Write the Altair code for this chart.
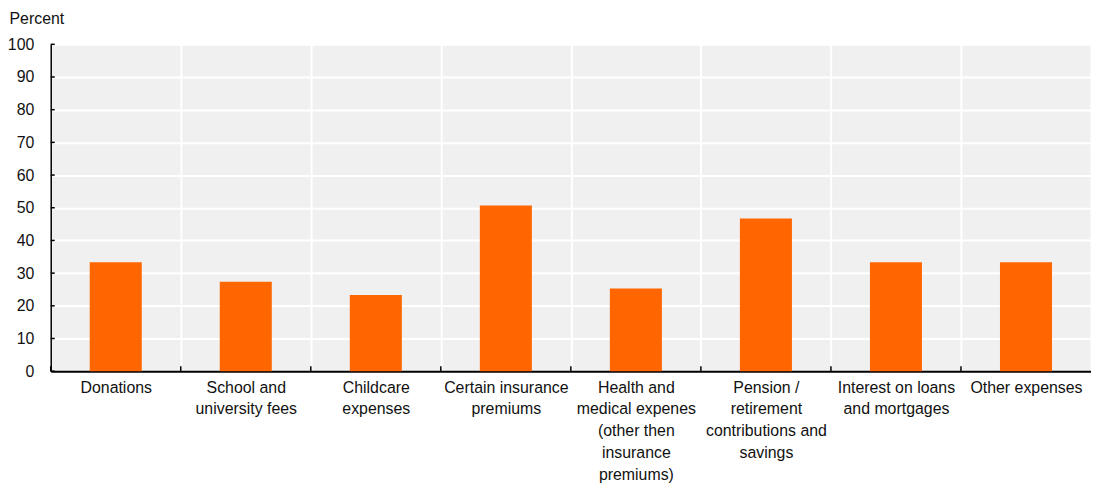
import altair as alt
import pandas as pd

categories = [
    "Donations",
    "School and\nuniversity fees",
    "Childcare\nexpenses",
    "Certain insurance\npremiums",
    "Health and\nmedical expenes\n(other then\ninsurance\npremiums)",
    "Pension /\nretirement\ncontributions and\nsavings",
    "Interest on loans\nand mortgages",
    "Other expenses",
]
values = [33.3, 27.4, 23.3, 50.7, 25.3, 46.7, 33.3, 33.3]
y_ticks = [0, 10, 20, 30, 40, 50, 60, 70, 80, 90, 100]

df = pd.DataFrame({"cat": categories, "value": values})
ticks_df = pd.DataFrame({"t": y_ticks})

FONT = "Liberation Sans, Arial, sans-serif"
W, H = 1047, 329

x_axis = alt.Axis(
    title=None,
    labelAngle=0,
    labelExpr="split(datum.label, '\\n')",
    labelFont=FONT,
    labelFontSize=16,
    labelColor="#111111",
    labelLineHeight=22,
    labelPadding=8,
    labelBaseline="top",
    ticks=False,
    grid=True,
    tickBand="extent",
    gridColor="#ffffff",
    gridWidth=2,
    gridOpacity=1,
    domainColor="#000000",
    domainWidth=2,
    labelOverlap=False,
)
x_scale = alt.Scale(paddingInner=0, paddingOuter=0)

y_axis = alt.Axis(
    values=y_ticks,
    title="Percent",
    titleAngle=0,
    titleAlign="left",
    titleBaseline="middle",
    titleX=-42,
    titleY=-26,
    titleFont=FONT,
    titleFontSize=16,
    titleFontWeight="normal",
    titleColor="#111111",
    labelFont=FONT,
    labelFontSize=16,
    labelColor="#111111",
    labelPadding=17,
    labelOverlap=False,
    labelFlush=False,
    ticks=False,
    grid=True,
    gridColor="#ffffff",
    gridWidth=2,
    gridOpacity=1,
    domainColor="#000000",
    domainWidth=1.5,
)
y_scale = alt.Scale(domain=[0, 100], nice=False)

bars = alt.Chart(df).mark_bar(
    color="#FF6600", width=alt.RelativeBandSize(0.4)
).encode(
    x=alt.X("cat:N", sort=categories, scale=x_scale, axis=x_axis),
    y=alt.Y("value:Q", scale=y_scale, axis=y_axis),
)

y_inner_ticks = alt.Chart(ticks_df).mark_rule(color="#000000", strokeWidth=1.5).encode(
    y=alt.Y("t:Q", scale=y_scale, axis=y_axis),
    x=alt.value(0),
    x2=alt.value(4),
)

x_inner_ticks = alt.Chart(df).mark_rule(color="#000000", strokeWidth=1.5).encode(
    x=alt.X("cat:N", sort=categories, scale=x_scale, axis=x_axis, bandPosition=0),
    y=alt.value(H - 5),
    y2=alt.value(H),
)

chart = alt.layer(bars, y_inner_ticks, x_inner_ticks).properties(
    width=W,
    height=H,
    autosize=alt.AutoSizeParams(type="none"),
    padding={"left": 43, "top": 35, "right": 0, "bottom": 114},
).configure(
    background="#ffffff",
    view=alt.ViewConfig(fill="#F0F0F0", stroke=None),
)

chart.save("out.html", embed_options={"renderer": "svg", "actions": False})
